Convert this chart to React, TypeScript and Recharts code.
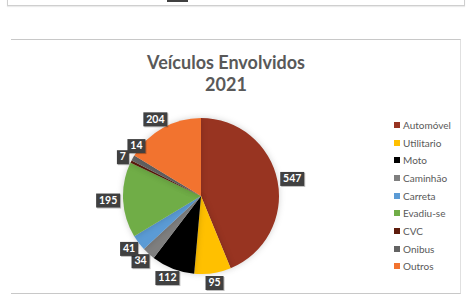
import { PieChart, Pie, Cell, Legend } from "recharts";

// ─── Data ────────────────────────────────────────────────
const CATEGORIES = [
  "Automóvel",
  "Utilitario",
  "Moto",
  "Caminhão",
  "Carreta",
  "Evadiu-se",
  "CVC",
  "Onibus",
  "Outros",
];
const VALUES = [547, 95, 112, 34, 41, 195, 7, 14, 204];
const COLORS = [
  "#983421",
  "#ffc000",
  "#000000",
  "#7f7f7f",
  "#5b9bd5",
  "#70ad47",
  "#5e1c0c",
  "#636363",
  "#f2732f",
];
const TITLE = ["Veículos Envolvidos", "2021"];

const chartData = CATEGORIES.map((name, i) => ({ name, value: VALUES[i] }));
const TOTAL = VALUES.reduce((a, b) => a + b, 0);

const RAD = Math.PI / 180;
const FONT = "Lato, 'Open Sans', sans-serif";

// ─── Dark value boxes, outside end ──────────────────────
function ValueLabel(props: any) {
  const { cx, cy, midAngle, outerRadius, value, index } = props;
  const cos = Math.cos(-midAngle * RAD);
  const sin = Math.sin(-midAngle * RAD);
  const ax = cx + (outerRadius + 3) * cos;
  const ay = cy + (outerRadius + 3) * sin;
  const w = String(value).length * 6 + 6;
  const h = 14;
  let bx = ax + (cos * w) / 2;
  let by = ay + (sin * h) / 2;
  // two thin neighbouring slices: push the second box aside so both show
  const thin = (i: number) => i >= 0 && VALUES[i] / TOTAL < 0.02;
  if (thin(index) && thin(index - 1)) {
    bx += 14;
    by -= 7;
  }
  return (
    <g>
      <rect
        x={bx - w / 2 + 1}
        y={by - h / 2 + 1}
        width={w}
        height={h}
        fill="#000"
        opacity={0.25}
      />
      <rect x={bx - w / 2} y={by - h / 2} width={w} height={h} fill="#404040" />
      <text
        x={bx}
        y={by + 0.5}
        textAnchor="middle"
        dominantBaseline="middle"
        fill="#fff"
        fontSize={10.5}
        fontWeight={700}
        fontFamily={FONT}
      >
        {value}
      </text>
    </g>
  );
}

// ─── Legend ──────────────────────────────────────────────
function SideLegend() {
  return (
    <div style={{ fontFamily: FONT, fontSize: 10, color: "#595959" }}>
      {chartData.map((d, i) => (
        <div
          key={d.name}
          style={{ display: "flex", alignItems: "center", height: 17.7 }}
        >
          <span
            style={{
              width: 6,
              height: 6,
              background: COLORS[i],
              marginRight: 3,
              display: "inline-block",
            }}
          />
          {d.name}
        </div>
      ))}
    </div>
  );
}

// ─── Component ───────────────────────────────────────────
export default function App() {
  return (
    <div
      style={{
        position: "absolute",
        left: 0,
        top: 0,
        width: 467,
        height: 302,
        background: "#fff",
        overflow: "hidden",
      }}
    >
      {/* bottom of the previous chart */}
      <div
        style={{
          position: "absolute",
          left: 7,
          top: -4,
          width: 456,
          height: 9,
          border: "1px solid #cfcfcf",
          borderTop: "none",
          boxShadow: "0 1px 1px rgba(0,0,0,0.08)",
        }}
      />
      <div
        style={{
          position: "absolute",
          left: 167,
          top: 0,
          width: 21,
          height: 2,
          background: "#404040",
        }}
      />

      {/* chart area */}
      <div
        style={{
          position: "absolute",
          left: 11,
          top: 39,
          width: 449,
          height: 253,
          borderTop: "1px solid #c8c8c8",
          borderBottom: "1px solid #c8c8c8",
          borderRight: "1px solid #e0e0e0",
        }}
      >
        <div
          style={{
            position: "absolute",
            left: 0,
            top: 11,
            width: 430,
            textAlign: "center",
            fontFamily: FONT,
            fontWeight: 700,
            fontSize: 18,
            lineHeight: "22px",
            color: "#595959",
          }}
        >
          {TITLE.map((t) => (
            <div key={t}>{t}</div>
          ))}
        </div>
        <PieChart
          width={449}
          height={253}
          margin={{ top: 0, right: 0, bottom: 0, left: 0 }}
        >
          <Pie
            data={chartData}
            dataKey="value"
            nameKey="name"
            cx={190}
            cy={156}
            outerRadius={78}
            startAngle={90}
            endAngle={-270}
            stroke="none"
            label={ValueLabel}
            labelLine={false}
            isAnimationActive={false}
            style={{ filter: "drop-shadow(0 0 3px rgba(0,0,0,0.18))" }}
          >
            {chartData.map((d, i) => (
              <Cell key={d.name} fill={COLORS[i]} />
            ))}
          </Pie>
          <Legend
            layout="vertical"
            align="right"
            verticalAlign="top"
            wrapperStyle={{ left: 383, top: 76, width: 70 }}
            content={<SideLegend />}
          />
        </PieChart>
      </div>
    </div>
  );
}
